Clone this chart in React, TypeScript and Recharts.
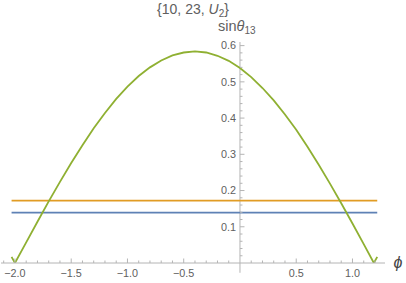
import React from 'react';
import { LineChart, Line, XAxis, YAxis, ReferenceLine } from 'recharts';

// values
const phi = [
  -2.03, -2.0, -1.9, -1.8, -1.7, -1.6, -1.5, -1.4, -1.3, -1.2, -1.1, -1.0,
  -0.9, -0.8, -0.7, -0.6, -0.5, -0.4, -0.3, -0.2, -0.1, 0.0,
  0.1, 0.2, 0.3, 0.4, 0.5, 0.6, 0.7, 0.8, 0.9, 1.0, 1.1, 1.19, 1.22,
];
const sinTheta13 = [
  0.017, 0.0, 0.057, 0.114, 0.17, 0.224, 0.276, 0.325, 0.372, 0.414, 0.453, 0.487,
  0.516, 0.54, 0.559, 0.573, 0.581, 0.584, 0.581, 0.572, 0.558, 0.538,
  0.513, 0.483, 0.449, 0.41, 0.368, 0.321, 0.271, 0.219, 0.165, 0.109, 0.052, 0.0, 0.017,
];
const levelRange = [-2.03, 1.22];
const blueLevel = 0.139;
const orangeLevel = 0.172;

const xTicks = [
  -2.1, -2.0, -1.9, -1.8, -1.7, -1.6, -1.5, -1.4, -1.3, -1.2, -1.1, -1.0,
  -0.9, -0.8, -0.7, -0.6, -0.5, -0.4, -0.3, -0.2, -0.1, 0.0,
  0.1, 0.2, 0.3, 0.4, 0.5, 0.6, 0.7, 0.8, 0.9, 1.0, 1.1, 1.2,
];
const xMajor = [-2.0, -1.5, -1.0, -0.5, 0.5, 1.0];
const yTicks = [
  0.0, 0.02, 0.04, 0.06, 0.08, 0.1, 0.12, 0.14, 0.16, 0.18, 0.2, 0.22, 0.24, 0.26, 0.28,
  0.3, 0.32, 0.34, 0.36, 0.38, 0.4, 0.42, 0.44, 0.46, 0.48, 0.5, 0.52, 0.54, 0.56, 0.58, 0.6,
];
const yMajor = [0.1, 0.2, 0.3, 0.4, 0.5, 0.6];

const W = 406;
const H = 283;
const MARGIN = { top: 42, right: 21, bottom: 0, left: 0 };
const Y_AXIS_W = 1;
const X_AXIS_H = 20;
const XMIN = -2.124;
const XMAX = 1.289;
const YMIN = 0;
const YMAX = 0.61;
const PLOT_LEFT = MARGIN.left + Y_AXIS_W;
const PLOT_W = W - PLOT_LEFT - MARGIN.right;
const X0 = PLOT_LEFT + (PLOT_W * (0 - XMIN)) / (XMAX - XMIN);

const AXIS = '#b4b4b4';
const TXT = '#606060';
const FONT = '"Liberation Sans", Arial, sans-serif';
const TICK_FS = 10.8;

const isIn = (arr: number[], v: number) => arr.some((a) => Math.abs(a - v) < 1e-6);
const fmt = (v: number) => (v < 0 ? '\u2212' + Math.abs(v).toFixed(1) : v.toFixed(1));

const XTick = (props: any) => {
  const { x, y, payload } = props;
  const v = payload.value as number;
  const major = isIn(xMajor, v);
  if (Math.abs(v) < 1e-6) return <g />;
  return (
    <g>
      <line x1={x} x2={x} y1={y} y2={y - (major ? 4.5 : 2.5)} stroke={AXIS} strokeWidth={1} />
      {major && (
        <text x={x} y={y + 14} textAnchor="middle" fontSize={TICK_FS} fontFamily={FONT} fill={TXT}>
          {fmt(v)}
        </text>
      )}
    </g>
  );
};

const YTick = (props: any) => {
  const { y, payload } = props;
  const v = payload.value as number;
  const major = isIn(yMajor, v);
  if (Math.abs(v) < 1e-6) return <g />;
  return (
    <g>
      <line x1={X0} x2={X0 + (major ? 4.5 : 2.5)} y1={y} y2={y} stroke={AXIS} strokeWidth={1} />
      {major && (
        <text x={X0 - 4} y={y + 3.8} textAnchor="end" fontSize={TICK_FS} fontFamily={FONT} fill={TXT}>
          {v.toFixed(1)}
        </text>
      )}
    </g>
  );
};

const greenData = phi.map((x, i) => ({ x, y: sinTheta13[i] }));
const blueData = levelRange.map((x) => ({ x, y: blueLevel }));
const orangeData = levelRange.map((x) => ({ x, y: orangeLevel }));

export default function App() {
  return (
    <div style={{ position: 'absolute', left: 0, top: 0, width: W, height: H, background: '#fff' }}>
      <LineChart width={W} height={H} margin={MARGIN}>
        <XAxis
          type="number"
          dataKey="x"
          domain={[XMIN, XMAX]}
          allowDataOverflow
          ticks={xTicks}
          interval={0}
          height={X_AXIS_H}
          tickSize={0}
          tickMargin={0}
          tickLine={false}
          axisLine={{ stroke: AXIS, strokeWidth: 1 }}
          tick={<XTick />}
        />
        <YAxis
          type="number"
          dataKey="y"
          domain={[YMIN, YMAX]}
          allowDataOverflow
          ticks={yTicks}
          interval={0}
          width={Y_AXIS_W}
          tickSize={0}
          tickMargin={0}
          tickLine={false}
          axisLine={false}
          tick={<YTick />}
        />
        <ReferenceLine
          segment={[{ x: 0, y: -0.027 }, { x: 0, y: YMAX }]}
          ifOverflow="visible"
          stroke={AXIS}
          strokeWidth={1}
        />
        <Line data={blueData} dataKey="y" type="linear" stroke="#5E81B5" strokeWidth={1.8} dot={false} isAnimationActive={false} />
        <Line data={orangeData} dataKey="y" type="linear" stroke="#E19C24" strokeWidth={1.8} dot={false} isAnimationActive={false} />
        <Line data={greenData} dataKey="y" type="linear" stroke="#8FB032" strokeWidth={1.8} dot={false} isAnimationActive={false} />
      </LineChart>
      <svg width={W} height={H} style={{ position: 'absolute', left: 0, top: 0, pointerEvents: 'none' }}>
        <text x={193} y={14} textAnchor="middle" fontSize={14} fontFamily={FONT} fill={TXT}>
          {'{10, 23, '}
          <tspan fontStyle="italic">U</tspan>
          <tspan fontSize={10} dy={3}>2</tspan>
          <tspan dy={-3}>{'}'}</tspan>
        </text>
        <text x={218} y={31} textAnchor="start" fontSize={14.5} fontFamily={FONT} fill={TXT}>
          sin
          <tspan fontStyle="italic">θ</tspan>
          <tspan fontSize={10} dy={3}>13</tspan>
        </text>
        <text x={398} y={268} textAnchor="middle" fontSize={16} fontStyle="italic" fontFamily={FONT} fill="#444">
          ϕ
        </text>
      </svg>
    </div>
  );
}
